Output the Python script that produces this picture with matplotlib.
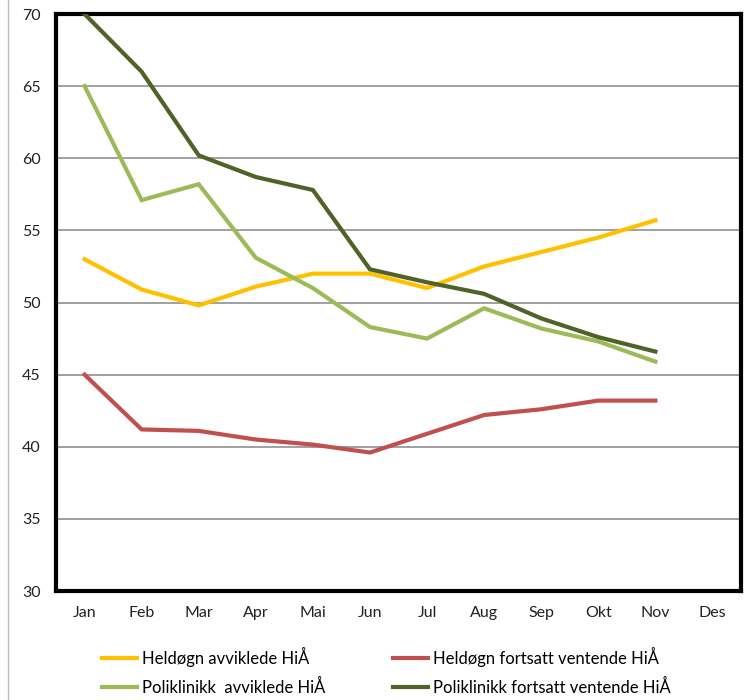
import matplotlib
matplotlib.use("Agg")
import matplotlib.pyplot as plt
from matplotlib.lines import Line2D

plt.rcParams['font.family'] = ['Lato', 'DejaVu Sans']

months = ["Jan", "Feb", "Mar", "Apr", "Mai", "Jun", "Jul", "Aug", "Sep", "Okt", "Nov", "Des"]

heldogn_avviklede = [53.0, 50.9, 49.8, 51.1, 52.0, 52.0, 51.0, 52.5, 53.5, 54.5, 55.7]
heldogn_ventende = [45.0, 41.2, 41.1, 40.5, 40.15, 39.6, 40.9, 42.2, 42.6, 43.2, 43.2]
poli_avviklede = [65.0, 57.1, 58.2, 53.1, 51.0, 48.3, 47.5, 49.6, 48.2, 47.3, 45.9]
poli_ventende = [70.0, 66.0, 60.2, 58.7, 57.8, 52.3, 51.4, 50.6, 48.9, 47.6, 46.6]

labels = ["Heldøgn avviklede HiÅ", "Heldøgn fortsatt ventende HiÅ",
          "Poliklinikk  avviklede HiÅ", "Poliklinikk fortsatt ventende HiÅ"]
colors = ["#FFC000", "#C0504D", "#9BBB59", "#4F6228"]
y_ticks = [30, 35, 40, 45, 50, 55, 60, 65, 70]

fig = plt.figure(figsize=(7.48, 7.0), dpi=100)
ax = fig.add_axes([0.0749, 0.1557, 0.9157, 0.8243])

series = [heldogn_avviklede, heldogn_ventende, poli_avviklede, poli_ventende]
x = list(range(len(months)))
for vals, col, lab in zip(series, colors, labels):
    ax.plot(x[:len(vals)], vals, color=col, lw=3, label=lab,
            solid_joinstyle='miter', zorder=3)

ax.set_xlim(-0.5, len(months) - 0.5)
ax.set_ylim(30, 70)
ax.set_yticks(y_ticks)
ax.set_xticks(x)
ax.set_xticklabels(months)
ax.tick_params(length=0, labelsize=11.5, colors="#222222")
ax.tick_params(axis='x', pad=11)
ax.tick_params(axis='y', pad=11)
ax.yaxis.grid(True, color="#999999", lw=1.3)
ax.set_axisbelow(True)
for sp in ax.spines.values():
    sp.set_linewidth(3)
    sp.set_color("black")

# thin outer border of the chart area
fig.add_artist(Line2D([0.011, 0.011], [0.0, 1.0], transform=fig.transFigure,
                      color="#bbbbbb", lw=1))

handles, labs = ax.get_legend_handles_labels()
order = [0, 2, 1, 3]
fig.legend([handles[i] for i in order], [labs[i] for i in order],
           ncol=2, loc="center left", bbox_to_anchor=(0.116, 0.041),
           frameon=False, fontsize=12, handlelength=2.1, handletextpad=0.3,
           columnspacing=4.1, labelspacing=0.75)

fig.savefig("out.png", dpi=100)
